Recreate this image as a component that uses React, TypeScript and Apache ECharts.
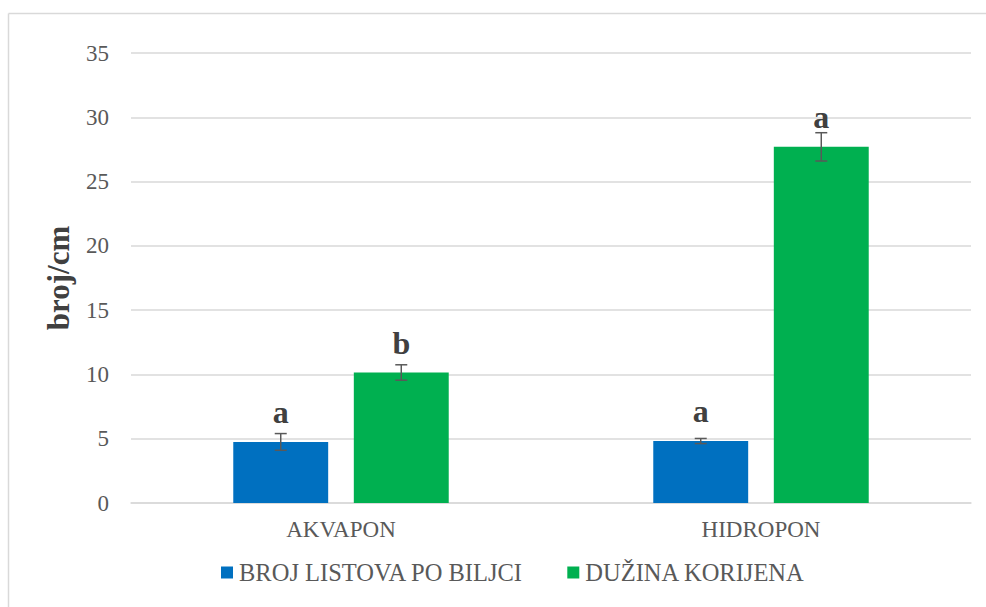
import React, { useEffect, useRef } from "react";
import * as echarts from "echarts";

const categories = ["AKVAPON", "HIDROPON"];
const seriesNames = ["BROJ LISTOVA PO BILJCI", "DUŽINA KORIJENA"];
const leafCount = [4.75, 4.82];
const rootLength = [10.15, 27.7];
const leafErr = [0.65, 0.2];
const rootErr = [0.6, 1.1];
const leafLetters = ["a", "a"];
const rootLetters = ["b", "a"];
const colors = ["#0070C0", "#00B050"];

const BAR_W = 0.226;
const BAR_GAP = 0.27;

export default function App() {
  const ref = useRef<HTMLDivElement>(null);
  useEffect(() => {
    document.body.style.margin = "0";
    const chart = echarts.init(ref.current!, null, { renderer: "svg" });
    const font = "Liberation Serif";
    const errData = (vals: number[], errs: number[]) =>
      vals.map((v, i) => [i, v, errs[i]]);
    const makeErr = (name: string, vals: number[], errs: number[], dir: number) => ({
      type: "custom",
      name: name + "_err",
      z: 5,
      data: errData(vals, errs),
      renderItem: (params: any, api: any) => {
        const idx = api.value(0);
        const v = api.value(1);
        const e = api.value(2);
        const band = api.size([1, 0])[0];
        const off = (dir * band * BAR_W * (1 + BAR_GAP)) / 2;
        const top = api.coord([idx, v + e]);
        const bot = api.coord([idx, v - e]);
        const x = top[0] + off;
        const cap = 6;
        const st = { stroke: "#595959", lineWidth: 1.5 };
        return {
          type: "group",
          children: [
            { type: "line", shape: { x1: x, y1: top[1], x2: x, y2: bot[1] }, style: st },
            { type: "line", shape: { x1: x - cap, y1: top[1], x2: x + cap, y2: top[1] }, style: st },
            { type: "line", shape: { x1: x - cap, y1: bot[1], x2: x + cap, y2: bot[1] }, style: st },
          ],
        };
      },
    });
    const barLabel = (letters: string[]) => ({
      show: true,
      position: "top",
      distance: 14,
      formatter: (p: any) => letters[p.dataIndex],
      fontFamily: font,
      fontWeight: "bold",
      fontSize: 32,
      color: "#404040",
    });
    chart.setOption({
      animation: false,
      graphic: [
        { type: "line", shape: { x1: 8.5, y1: 13.5, x2: 986, y2: 13.5 }, style: { stroke: "#D9D9D9", lineWidth: 1.5 } },
        { type: "line", shape: { x1: 8.5, y1: 13.5, x2: 8.5, y2: 607 }, style: { stroke: "#D9D9D9", lineWidth: 1.5 } },
      ],
      grid: { left: 131, right: 15, top: 53, bottom: 104 },
      legend: {
        data: seriesNames,
        top: 555,
        left: 216,
        itemWidth: 12,
        itemHeight: 12,
        itemGap: 44,
        icon: "rect",
        textStyle: { fontFamily: font, fontSize: 24.5, color: "#595959", padding: [0, 0, 0, 1] },
      },
      xAxis: {
        type: "category",
        data: categories,
        axisLine: { show: true, lineStyle: { color: "#D9D9D9", width: 1.5 } },
        axisTick: { show: false },
        axisLabel: { fontFamily: font, fontSize: 23, color: "#595959", margin: 15 },
      },
      yAxis: {
        type: "value",
        min: 0,
        max: 35,
        interval: 5,
        name: "broj/cm",
        nameLocation: "middle",
        nameRotate: 90,
        nameGap: 57,
        nameTextStyle: { fontFamily: font, fontSize: 31, fontWeight: "bold", color: "#404040" },
        axisLine: { show: false },
        axisTick: { show: false },
        axisLabel: { fontFamily: font, fontSize: 23, color: "#595959", margin: 22 },
        splitLine: { lineStyle: { color: "#D9D9D9", width: 1.5 } },
      },
      series: [
        {
          type: "bar",
          name: seriesNames[0],
          data: leafCount,
          barWidth: BAR_W * 100 + "%",
          barGap: BAR_GAP * 100 + "%",
          itemStyle: { color: colors[0] },
          label: barLabel(leafLetters),
        },
        {
          type: "bar",
          name: seriesNames[1],
          data: rootLength,
          barWidth: BAR_W * 100 + "%",
          barGap: BAR_GAP * 100 + "%",
          itemStyle: { color: colors[1] },
          label: barLabel(rootLetters),
        },
        makeErr(seriesNames[0], leafCount, leafErr, -1),
        makeErr(seriesNames[1], rootLength, rootErr, 1),
      ],
    });
    return () => chart.dispose();
  }, []);
  return <div ref={ref} style={{ width: 986, height: 607 }} />;
}
